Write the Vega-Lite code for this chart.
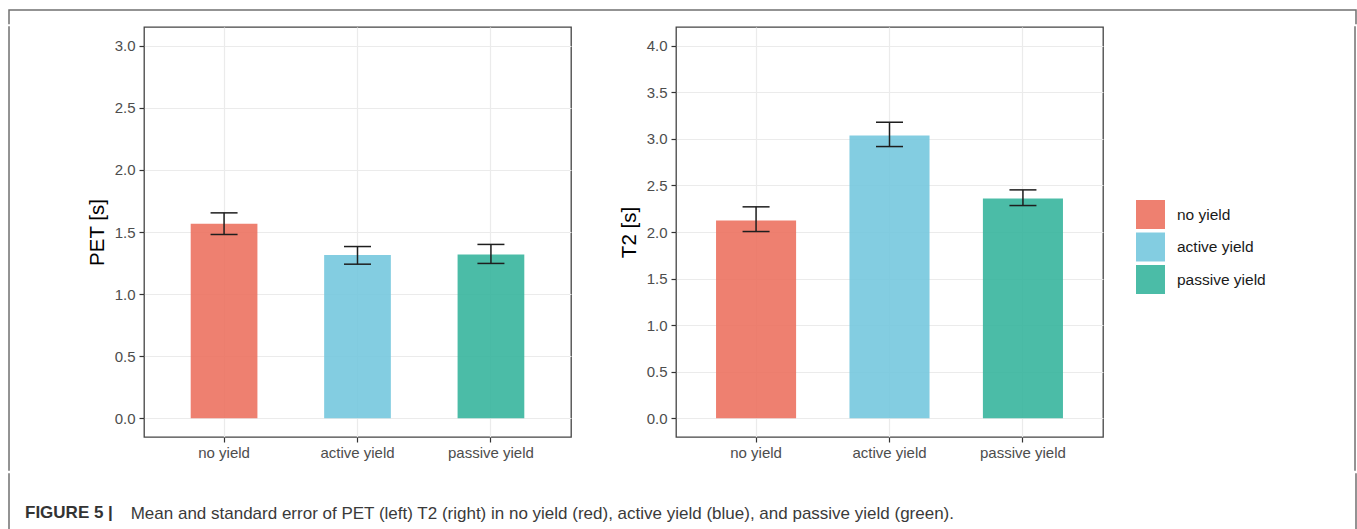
{
  "$schema": "https://vega.github.io/schema/vega-lite/v6.json",
  "padding": {"left": 7, "top": 8, "right": 0, "bottom": 0},
  "background": "white",
  "datasets": {
    "pet": [
      {"condition": "no yield", "mean": 1.566, "lower": 1.480, "upper": 1.654},
      {"condition": "active yield", "mean": 1.314, "lower": 1.241, "upper": 1.383},
      {"condition": "passive yield", "mean": 1.319, "lower": 1.247, "upper": 1.400}
    ],
    "t2": [
      {"condition": "no yield", "mean": 2.123, "lower": 2.005, "upper": 2.270},
      {"condition": "active yield", "mean": 3.035, "lower": 2.917, "upper": 3.178},
      {"condition": "passive yield", "mean": 2.359, "lower": 2.284, "upper": 2.452}
    ],
    "empty": []
  },
  "title": {
    "text": "Mean and standard error of PET (left) T2 (right) in no yield (red), active yield (blue), and passive yield (green).",
    "orient": "bottom", "anchor": "start", "frame": "group",
    "dx": 121.7, "offset": -15.3, "baseline": "alphabetic",
    "font": "Liberation Sans", "fontSize": 17, "fontWeight": "normal", "color": "#3a3a3a"
  },
  "spacing": 0,
  "vconcat": [
    {
      "width": 1347,
      "height": 13.6,
      "data": {"name": "empty"},
      "mark": {"type": "text"},
      "encoding": {},
      "view": {"stroke": "#707070", "strokeWidth": 1.5, "strokeCap": "square", "strokeDash": [1360.6, 1347, 13.6, 0]}
    },
    {
      "spacing": 77,
      "hconcat": [
        {
          "spacing": 75,
          "hconcat": [
            {
              "width": 0.01,
              "height": 443,
              "data": {"name": "empty"},
              "mark": {"type": "text"},
              "encoding": {},
              "view": {"stroke": "#707070", "strokeWidth": 1.5, "strokeCap": "square"}
            },
            {
              "spacing": 46,
              "resolve": {"legend": {"color": "independent"}},
              "hconcat": [
                {
                  "width": 427,
                  "height": 410,
                  "data": {"name": "pet"},
                  "view": {"stroke": "#444444", "strokeWidth": 1.3},
                  "encoding": {
                    "x": {
                      "field": "condition", "type": "nominal",
                      "sort": ["no yield", "active yield", "passive yield"],
                      "scale": {"paddingInner": 0.5, "paddingOuter": 0.35},
                      "axis": {"title": null, "grid": true, "bandPosition": 0.5, "labelAngle": 0, "labelPadding": 3, "gridWidth": 1.2}
                    }
                  },
                  "layer": [
                    {
                      "mark": {"type": "bar", "opacity": 0.9},
                      "encoding": {
                        "y": {
                          "field": "mean", "type": "quantitative", "title": "PET [s]",
                          "scale": {"domain": [-0.15, 3.15], "nice": false, "zero": false},
                          "axis": {
                            "values": [0, 0.25, 0.5, 0.75, 1, 1.25, 1.5, 1.75, 2, 2.25, 2.5, 2.75, 3],
                            "labelExpr": "datum.value % 0.5 === 0 ? format(datum.value, '.1f') : ''",
                            "labelOverlap": false,
                            "tickOpacity": {"condition": {"test": "datum.value % 0.5 !== 0", "value": 0}, "value": 1},
                            "gridWidth": {"condition": {"test": "datum.value % 0.5 !== 0", "value": 0.8}, "value": 1.2},
                            "grid": true
                          }
                        },
                        "color": {
                          "field": "condition", "type": "nominal",
                          "scale": {"domain": ["no yield", "active yield", "passive yield"], "range": ["#EC7260", "#76C8DE", "#37B59D"]},
                          "legend": null
                        }
                      }
                    },
                    {
                      "mark": {"type": "rule", "color": "#1e1e1e", "strokeWidth": 1.5},
                      "encoding": {
                        "y": {"field": "lower", "type": "quantitative", "title": "PET [s]"},
                        "y2": {"field": "upper"}
                      }
                    },
                    {
                      "mark": {"type": "tick", "color": "#1e1e1e", "thickness": 1.5, "size": 27, "opacity": 1},
                      "encoding": {"y": {"field": "upper", "type": "quantitative", "title": "PET [s]"}}
                    },
                    {
                      "mark": {"type": "tick", "color": "#1e1e1e", "thickness": 1.5, "size": 27, "opacity": 1},
                      "encoding": {"y": {"field": "lower", "type": "quantitative", "title": "PET [s]"}}
                    }
                  ]
                },
                {
                  "width": 427,
                  "height": 410,
                  "data": {"name": "t2"},
                  "view": {"stroke": "#444444", "strokeWidth": 1.3},
                  "encoding": {
                    "x": {
                      "field": "condition", "type": "nominal",
                      "sort": ["no yield", "active yield", "passive yield"],
                      "scale": {"paddingInner": 0.4, "paddingOuter": 0.3},
                      "axis": {"title": null, "grid": true, "bandPosition": 0.5, "labelAngle": 0, "labelPadding": 3, "gridWidth": 1.2}
                    }
                  },
                  "layer": [
                    {
                      "mark": {"type": "bar", "opacity": 0.9},
                      "encoding": {
                        "y": {
                          "field": "mean", "type": "quantitative", "title": "T2 [s]",
                          "scale": {"domain": [-0.2, 4.2], "nice": false, "zero": false},
                          "axis": {
                            "values": [0, 0.25, 0.5, 0.75, 1, 1.25, 1.5, 1.75, 2, 2.25, 2.5, 2.75, 3, 3.25, 3.5, 3.75, 4],
                            "labelExpr": "datum.value % 0.5 === 0 ? format(datum.value, '.1f') : ''",
                            "labelOverlap": false,
                            "tickOpacity": {"condition": {"test": "datum.value % 0.5 !== 0", "value": 0}, "value": 1},
                            "gridWidth": {"condition": {"test": "datum.value % 0.5 !== 0", "value": 0.8}, "value": 1.2},
                            "grid": true
                          }
                        },
                        "color": {
                          "field": "condition", "type": "nominal",
                          "scale": {"domain": ["no yield", "active yield", "passive yield"], "range": ["#EC7260", "#76C8DE", "#37B59D"]},
                          "legend": {
                            "orient": "none", "legendX": 451.5, "legendY": 164.5, "title": null, "direction": "vertical",
                            "symbolType": "square", "symbolSize": 841, "symbolStrokeWidth": 0, "symbolOpacity": 0.9,
                            "labelFontSize": 15.5, "labelColor": "#1a1a1a", "labelOffset": 12, "rowPadding": 3.5, "padding": 8.5
                          }
                        }
                      }
                    },
                    {
                      "mark": {"type": "rule", "color": "#1e1e1e", "strokeWidth": 1.5},
                      "encoding": {
                        "y": {"field": "lower", "type": "quantitative", "title": "T2 [s]"},
                        "y2": {"field": "upper"}
                      }
                    },
                    {
                      "mark": {"type": "tick", "color": "#1e1e1e", "thickness": 1.5, "size": 27, "opacity": 1},
                      "encoding": {"y": {"field": "upper", "type": "quantitative", "title": "T2 [s]"}}
                    },
                    {
                      "mark": {"type": "tick", "color": "#1e1e1e", "thickness": 1.5, "size": 27, "opacity": 1},
                      "encoding": {"y": {"field": "lower", "type": "quantitative", "title": "T2 [s]"}}
                    }
                  ]
                }
              ]
            }
          ]
        },
        {
          "width": 0.01,
          "height": 443,
          "data": {"name": "empty"},
          "mark": {"type": "text"},
          "encoding": {},
          "view": {"stroke": "#707070", "strokeWidth": 1.5, "strokeCap": "square"}
        }
      ]
    },
    {
      "width": 1347,
      "height": 59,
      "data": {"name": "empty"},
      "mark": {"type": "text"},
      "encoding": {},
      "view": {"stroke": "#707070", "strokeWidth": 1.5, "strokeCap": "square", "strokeDash": [0, 1347, 59, 1347, 59, 0]},
      "title": {
        "text": "FIGURE 5 |", "orient": "bottom", "anchor": "start", "frame": "group",
        "dx": 16, "offset": -14.6, "baseline": "alphabetic",
        "font": "Liberation Sans", "fontSize": 17, "fontWeight": "bold", "color": "#333333"
      }
    }
  ],
  "config": {
    "font": "Liberation Sans",
    "view": {"stroke": null},
    "axis": {
      "domain": false,
      "gridColor": "#EBEBEB",
      "tickColor": "#333333",
      "tickWidth": 1.2,
      "tickSize": 5,
      "labelColor": "#4D4D4D",
      "labelFont": "Liberation Sans",
      "labelFontSize": 15,
      "titleFont": "Liberation Sans",
      "titleFontSize": 20.5,
      "titleFontWeight": "normal",
      "titleColor": "#000000"
    },
    "axisY": {"titlePadding": 7, "labelPadding": 4},
    "legend": {"labelFont": "Liberation Sans"}
  }
}
